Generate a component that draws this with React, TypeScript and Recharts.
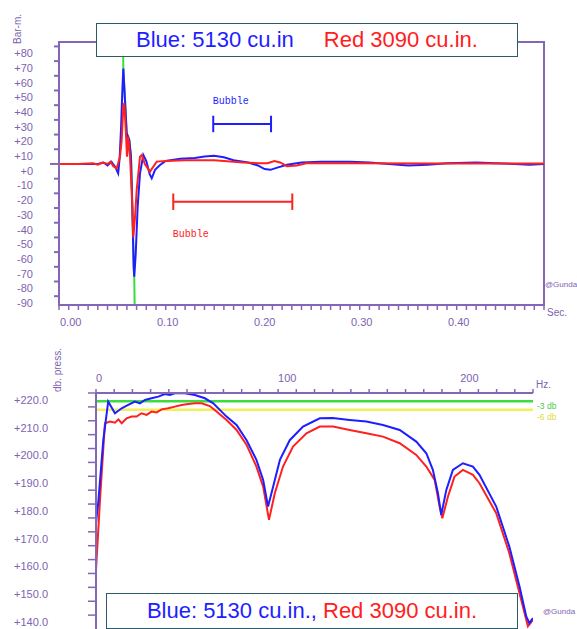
import React from 'react';
import { LineChart, Line, XAxis, YAxis, ReferenceLine, ReferenceArea, ReferenceDot } from 'recharts';

// ---------- colours / fonts ----------
const AXIS = '#8466b8';
const TXT = '#7d63b0';
const BLUE = '#1e1eff';
const RED = '#ff2020';
const GREEN = '#3ddc3d';
const YELLOW = '#f0f05a';
const BOXBORDER = '#2f5a6a';
const SANS = '"Liberation Sans", Arial, sans-serif';
const MONO = '"Liberation Mono", "DejaVu Sans Mono", monospace';

// ---------- top chart: signature (Bar-m. vs Sec.) ----------
const PRESS_TICKS = [-90, -80, -70, -60, -50, -40, -30, -20, -10, 0, 10, 20, 30, 40, 50, 60, 70, 80];
const TIME_MAJOR = ['0.00', '0.10', '0.20', '0.30', '0.40'];
const TIME_TICKS = Array.from({ length: 51 }, (_, i) => i / 100);

const BLUE_T = [0, 0.040, 0.046, 0.050, 0.054, 0.058, 0.0610, 0.0625, 0.0640, 0.0653, 0.0663, 0.0680, 0.0698, 0.0725, 0.0742, 0.0756, 0.0770, 0.0776, 0.0791, 0.0811, 0.0835, 0.0869, 0.0900, 0.0935, 0.0956, 0.0990, 0.1041, 0.110, 0.125, 0.140, 0.150, 0.160, 0.170, 0.180, 0.195, 0.205, 0.212, 0.218, 0.225, 0.235, 0.250, 0.270, 0.300, 0.320, 0.340, 0.360, 0.380, 0.400, 0.430, 0.450, 0.470, 0.485, 0.500];
const BLUE_V = [0, 0, 1, -1, 1.5, -2, -6.4, 4, 25, 50, 65, 43.6, 21, 16.3, 5, -29, -70, -76.7, -61, -29, -6.4, 6.1, 2, -7, -9.8, -4, -0.7, 2, 3.5, 4, 5, 5.5, 4.5, 2.5, 1, -1, -3.5, -4, -2.5, -0.5, 1, 1.5, 1.5, 1, 0, -1, -0.5, 0.5, 1, 0.5, 0, -0.5, 0];

const RED_T = [0, 0.020, 0.035, 0.040, 0.045, 0.050, 0.053, 0.056, 0.0595, 0.0629, 0.0646, 0.0663, 0.0673, 0.0687, 0.0701, 0.0714, 0.0732, 0.0749, 0.0766, 0.0785, 0.0801, 0.0835, 0.0853, 0.0885, 0.0938, 0.1007, 0.110, 0.130, 0.160, 0.190, 0.205, 0.215, 0.222, 0.228, 0.235, 0.245, 0.255, 0.300, 0.400, 0.500];
const RED_V = [0, 0, 0.5, -0.5, 1, 0, 1.5, -1.5, -3, 5, 16, 39, 41.5, 25, 5, 18.6, 5, -17.7, -50, -35, -17.7, 5, 6.1, 0, -5.2, 1.6, 2, 2.5, 2.5, 1, 0.5, 0.5, 2, 1, -1.5, -1, 0.5, 0.5, 0.3, 0.3];

const GREEN_T = [0.0656, 0.0663, 0.0680, 0.0698, 0.0725, 0.0742, 0.0756, 0.0770, 0.0776, 0.0784];
const GREEN_V = [110, 66, 44, 21, 16, 5, -29, -70, -78, -115];

// bubble periods: [start, end, level, label level]
const BUBBLE_BLUE = [0.159, 0.2186, 27.2, 42.9];
const BUBBLE_RED = [0.1178, 0.2405, -25.7, -47.2];
const CAP = 5.6;

// ---------- bottom chart: spectrum (db. press. vs Hz.) ----------
const DB_TICKS = [140, 145, 150, 155, 160, 165, 170, 175, 180, 185, 190, 195, 200, 205, 210, 215, 220];
const HZ_TICKS = Array.from({ length: 25 }, (_, i) => i * 10);
const HZ_MAJOR = [0, 100, 200];

const SPEC_BLUE_F = [0, 1.3, 4, 6.7, 10.4, 14.1, 17.7, 21.4, 24.1, 26.9, 30.5, 34.2, 37.8, 40.5, 43.3, 48.8, 54.3, 59.8, 64.4, 71.7, 77.2, 82.7, 88.1, 91.8, 94.5, 97.3, 101, 106.4, 113.7, 122.9, 130, 139.3, 148.5, 157.6, 166.8, 175.9, 181.4, 185, 187.8, 189.6, 192.4, 196, 201.5, 207, 210.6, 219.8, 227, 232.6, 236.3, 238, 240];
const SPEC_BLUE_DB = [173.1, 181, 203, 216.9, 212.7, 214.5, 215.7, 216.9, 216.3, 217.5, 218.1, 218.7, 219.6, 219.3, 219.9, 219.9, 219.3, 218.1, 216.3, 211.5, 208.5, 203, 195.9, 188.7, 179.1, 186.3, 195.9, 203, 207.9, 210.9, 211, 210.3, 209.7, 208.5, 206.7, 202.5, 198.3, 192.3, 183.9, 176.1, 185.1, 192.3, 194.7, 193.5, 190.5, 179.1, 164.7, 150.3, 139.5, 137.1, 138.9];

const SPEC_RED_F = [0, 2.2, 4.9, 7.7, 10.4, 12.3, 14.1, 16.8, 19.6, 22.3, 25, 27.8, 30.5, 33.3, 36, 39.7, 43.3, 47, 50.6, 54.3, 58, 62.5, 66.2, 71.7, 77.2, 82.7, 88.1, 91.8, 95, 98.2, 102.7, 108.2, 115.6, 122.9, 130.2, 139.3, 148.5, 157.6, 166.8, 175.9, 181.4, 186, 188.7, 190.2, 193.3, 196.9, 201.5, 207, 210.6, 219.8, 227, 232.6, 237.2, 240];
const SPEC_RED_DB = [156.3, 181.5, 209.1, 209.7, 209.3, 210.5, 209.1, 210.9, 211.5, 211.5, 212.7, 212.1, 213.3, 213, 214.1, 214.5, 215.1, 215.7, 216, 216.3, 216.3, 215.3, 213.3, 210.3, 206.7, 201.3, 193.5, 186.3, 174.3, 183.9, 193.5, 200.7, 205.5, 207.9, 207.9, 206.7, 205.5, 204.3, 201.9, 197.7, 193.5, 188.7, 179.1, 174.9, 182.7, 189.9, 192.3, 190.5, 187.5, 176.7, 162.3, 147.9, 136, 138.3];

const LEVEL_3DB = 217;
const LEVEL_6DB = 214;

const zip = (xs: number[], ys: number[], xk: string, yk: string) =>
  xs.map((x, i) => ({ [xk]: x, [yk]: ys[i] }));

const blueSig = zip(BLUE_T, BLUE_V, 't', 'v');
const redSig = zip(RED_T, RED_V, 't', 'v');
const greenSig = zip(GREEN_T, GREEN_V, 't', 'v');
const blueSpec = zip(SPEC_BLUE_F, SPEC_BLUE_DB, 'f', 'db');
const redSpec = zip(SPEC_RED_F, SPEC_RED_DB, 'f', 'db');

// ---------- ticks ----------
const TopYTick = (p: any) => {
  const { x, y, payload } = p;
  const v = payload.value;
  const lab = (v >= 0 ? '+' : '') + v;
  return (
    <g>
      <line x1={x - (v === 0 ? 9 : 5)} x2={x} y1={y} y2={y} stroke={AXIS} strokeWidth={2} />
      <text x={x - 26} y={y + 7} dy="0.35em" textAnchor="end" fill={TXT} fontSize={11} fontFamily={SANS}>{lab}</text>
    </g>
  );
};

const TopXTick = (p: any) => {
  const { x, y, payload } = p;
  const v = payload.value as number;
  const lab = v.toFixed(2);
  const major = TIME_MAJOR.includes(lab);
  return (
    <g>
      <line x1={x} x2={x} y1={y} y2={y + 5} stroke={AXIS} strokeWidth={1.5} />
      {major && (
        <text x={x + 1} y={y + 17} dy="0.35em" textAnchor="start" fill={TXT} fontSize={11} fontFamily={SANS}>{lab}</text>
      )}
    </g>
  );
};

const BotYTick = (p: any) => {
  const { x, y, payload } = p;
  const v = payload.value as number;
  const major = v % 10 === 0;
  return (
    <g>
      <line x1={x - 8} x2={x} y1={y} y2={y} stroke={AXIS} strokeWidth={1.5} />
      {major && (
        <text x={x - 48} y={y + 7} dy="0.35em" textAnchor="end" fill={TXT} fontSize={11} fontFamily={SANS}>{'+' + v.toFixed(1)}</text>
      )}
    </g>
  );
};

const BotXTick = (p: any) => {
  const { x, y, payload } = p;
  const v = payload.value as number;
  const major = HZ_MAJOR.includes(v);
  return (
    <g>
      <line x1={x} x2={x} y1={y - 4} y2={y} stroke={AXIS} strokeWidth={1.5} />
      {major && (
        <text x={x} y={y - 15} dy="0.35em" textAnchor="start" fill={TXT} fontSize={11} fontFamily={SANS}>{String(v)}</text>
      )}
    </g>
  );
};

const levelLabel = (text: string, color: string, shift: number) => (props: any) => {
  const vb = props.viewBox || {};
  return (
    <text x={(vb.x || 0) + (vb.width || 0) + 4} y={(vb.y || 0) + shift} dy="0.35em" fill={color} fontSize={8.5} fontFamily={SANS}>{text}</text>
  );
};

const boxStyle = (left: number, top: number, width: number, height: number): React.CSSProperties => ({
  position: 'absolute',
  left,
  top,
  width,
  height,
  boxSizing: 'border-box',
  border: `1.5px solid ${BOXBORDER}`,
  background: '#ffffff',
  fontFamily: SANS,
  fontSize: 22,
  lineHeight: `${height - 3}px`,
  textAlign: 'center',
  whiteSpace: 'nowrap',
});

export default function App() {
  return (
    <div style={{ position: 'absolute', left: 0, top: 0, width: 577, height: 629, overflow: 'hidden', background: '#fff' }}>
      {/* ---------- top chart ---------- */}
      <div style={{ position: 'absolute', left: 0, top: 0 }}>
        <LineChart width={577} height={330} margin={{ top: 42, right: 33, left: 0, bottom: 0 }}>
          <XAxis
            type="number" dataKey="t" domain={[0, 0.5]} ticks={TIME_TICKS} interval={0} allowDataOverflow
            height={25} tickSize={0} tickMargin={0} tickLine={false}
            axisLine={{ stroke: AXIS, strokeWidth: 2 }} tick={<TopXTick />}
          />
          <YAxis
            type="number" domain={[-96, 83]} ticks={PRESS_TICKS} interval={0} allowDataOverflow
            width={59} tickSize={0} tickMargin={0} tickLine={false}
            axisLine={{ stroke: AXIS, strokeWidth: 2 }} tick={<TopYTick />}
          />
          <ReferenceArea x1={0} x2={0.5} y1={-96} y2={83} fill="none" stroke={AXIS} strokeWidth={2} />
          <Line data={greenSig} dataKey="v" stroke={GREEN} strokeWidth={2} dot={false} isAnimationActive={false} />
          <Line data={blueSig} dataKey="v" stroke={BLUE} strokeWidth={2} dot={false} isAnimationActive={false} />
          <Line data={redSig} dataKey="v" stroke={RED} strokeWidth={2} dot={false} isAnimationActive={false} />

          <ReferenceLine segment={[{ x: BUBBLE_BLUE[0], y: BUBBLE_BLUE[2] }, { x: BUBBLE_BLUE[1], y: BUBBLE_BLUE[2] }]} stroke={BLUE} strokeWidth={2} />
          <ReferenceLine segment={[{ x: BUBBLE_BLUE[0], y: BUBBLE_BLUE[2] - CAP }, { x: BUBBLE_BLUE[0], y: BUBBLE_BLUE[2] + CAP }]} stroke={BLUE} strokeWidth={2} />
          <ReferenceLine segment={[{ x: BUBBLE_BLUE[1], y: BUBBLE_BLUE[2] - CAP }, { x: BUBBLE_BLUE[1], y: BUBBLE_BLUE[2] + CAP }]} stroke={BLUE} strokeWidth={2} />
          <ReferenceDot x={BUBBLE_BLUE[0] - 0.0015} y={BUBBLE_BLUE[3]} r={1} fill="none" stroke="none"
            label={{ value: 'Bubble', position: 'right', offset: 0, fill: BLUE, fontSize: 10, fontFamily: MONO }} />

          <ReferenceLine segment={[{ x: BUBBLE_RED[0], y: BUBBLE_RED[2] }, { x: BUBBLE_RED[1], y: BUBBLE_RED[2] }]} stroke={RED} strokeWidth={2} />
          <ReferenceLine segment={[{ x: BUBBLE_RED[0], y: BUBBLE_RED[2] - CAP }, { x: BUBBLE_RED[0], y: BUBBLE_RED[2] + CAP }]} stroke={RED} strokeWidth={2} />
          <ReferenceLine segment={[{ x: BUBBLE_RED[1], y: BUBBLE_RED[2] - CAP }, { x: BUBBLE_RED[1], y: BUBBLE_RED[2] + CAP }]} stroke={RED} strokeWidth={2} />
          <ReferenceDot x={BUBBLE_RED[0] - 0.0015} y={BUBBLE_RED[3]} r={1} fill="none" stroke="none"
            label={{ value: 'Bubble', position: 'right', offset: 0, fill: RED, fontSize: 10, fontFamily: MONO }} />
        </LineChart>
      </div>

      {/* ---------- bottom chart ---------- */}
      <div style={{ position: 'absolute', left: 0, top: 340 }}>
        <LineChart width={577} height={290} margin={{ top: 33, right: 44, left: 0, bottom: 1 }}>
          <XAxis
            orientation="top" type="number" dataKey="f" domain={[0, 240]} ticks={HZ_TICKS} interval={0} allowDataOverflow
            height={20} tickSize={0} tickMargin={0} tickLine={false}
            axisLine={{ stroke: AXIS, strokeWidth: 2 }} tick={<BotXTick />}
          />
          <YAxis
            type="number" domain={[135, 220]} ticks={DB_TICKS} interval={0} allowDataOverflow
            width={96} tickSize={0} tickMargin={0} tickLine={false}
            axisLine={{ stroke: AXIS, strokeWidth: 2 }} tick={<BotYTick />}
          />
          <ReferenceLine y={LEVEL_3DB} stroke={GREEN} strokeWidth={2.5}
            label={levelLabel('-3 db', '#4cc94c', 5)} />
          <ReferenceLine y={LEVEL_6DB} stroke={YELLOW} strokeWidth={2.5}
            label={levelLabel('-6 db', '#dcdc40', 7)} />
          <Line data={redSpec} dataKey="db" stroke={RED} strokeWidth={2} dot={false} isAnimationActive={false} />
          <Line data={blueSpec} dataKey="db" stroke={BLUE} strokeWidth={2} dot={false} isAnimationActive={false} />
        </LineChart>
      </div>

      {/* ---------- axis captions ---------- */}
      <svg width={577} height={629} style={{ position: 'absolute', left: 0, top: 0, pointerEvents: 'none' }}>
        <text transform="translate(21,44) rotate(-90)" fill={TXT} fontSize={10} fontFamily={SANS}>Bar-m.</text>
        <text x={547} y={316} fill={TXT} fontSize={10} fontFamily={SANS}>Sec.</text>
        <text x={545} y={287} fill={TXT} fontSize={8} fontFamily={SANS}>@Gunda</text>
        <text transform="translate(61,392) rotate(-90)" fill={TXT} fontSize={10} fontFamily={SANS}>db. press.</text>
        <text x={536} y={388} fill={TXT} fontSize={10} fontFamily={SANS}>Hz.</text>
        <text x={543} y={614} fill={TXT} fontSize={8} fontFamily={SANS}>@Gunda</text>
      </svg>

      {/* ---------- caption boxes ---------- */}
      <div style={boxStyle(96, 23, 422, 34)}>
        <span style={{ color: BLUE }}>Blue: 5130 cu.in</span>
        <span style={{ color: RED, marginLeft: 30 }}>Red 3090 cu.in.</span>
      </div>
      <div style={boxStyle(106, 593, 412, 36)}>
        <span style={{ color: BLUE }}>Blue: 5130 cu.in., </span>
        <span style={{ color: RED }}>Red 3090 cu.in.</span>
      </div>
    </div>
  );
}
